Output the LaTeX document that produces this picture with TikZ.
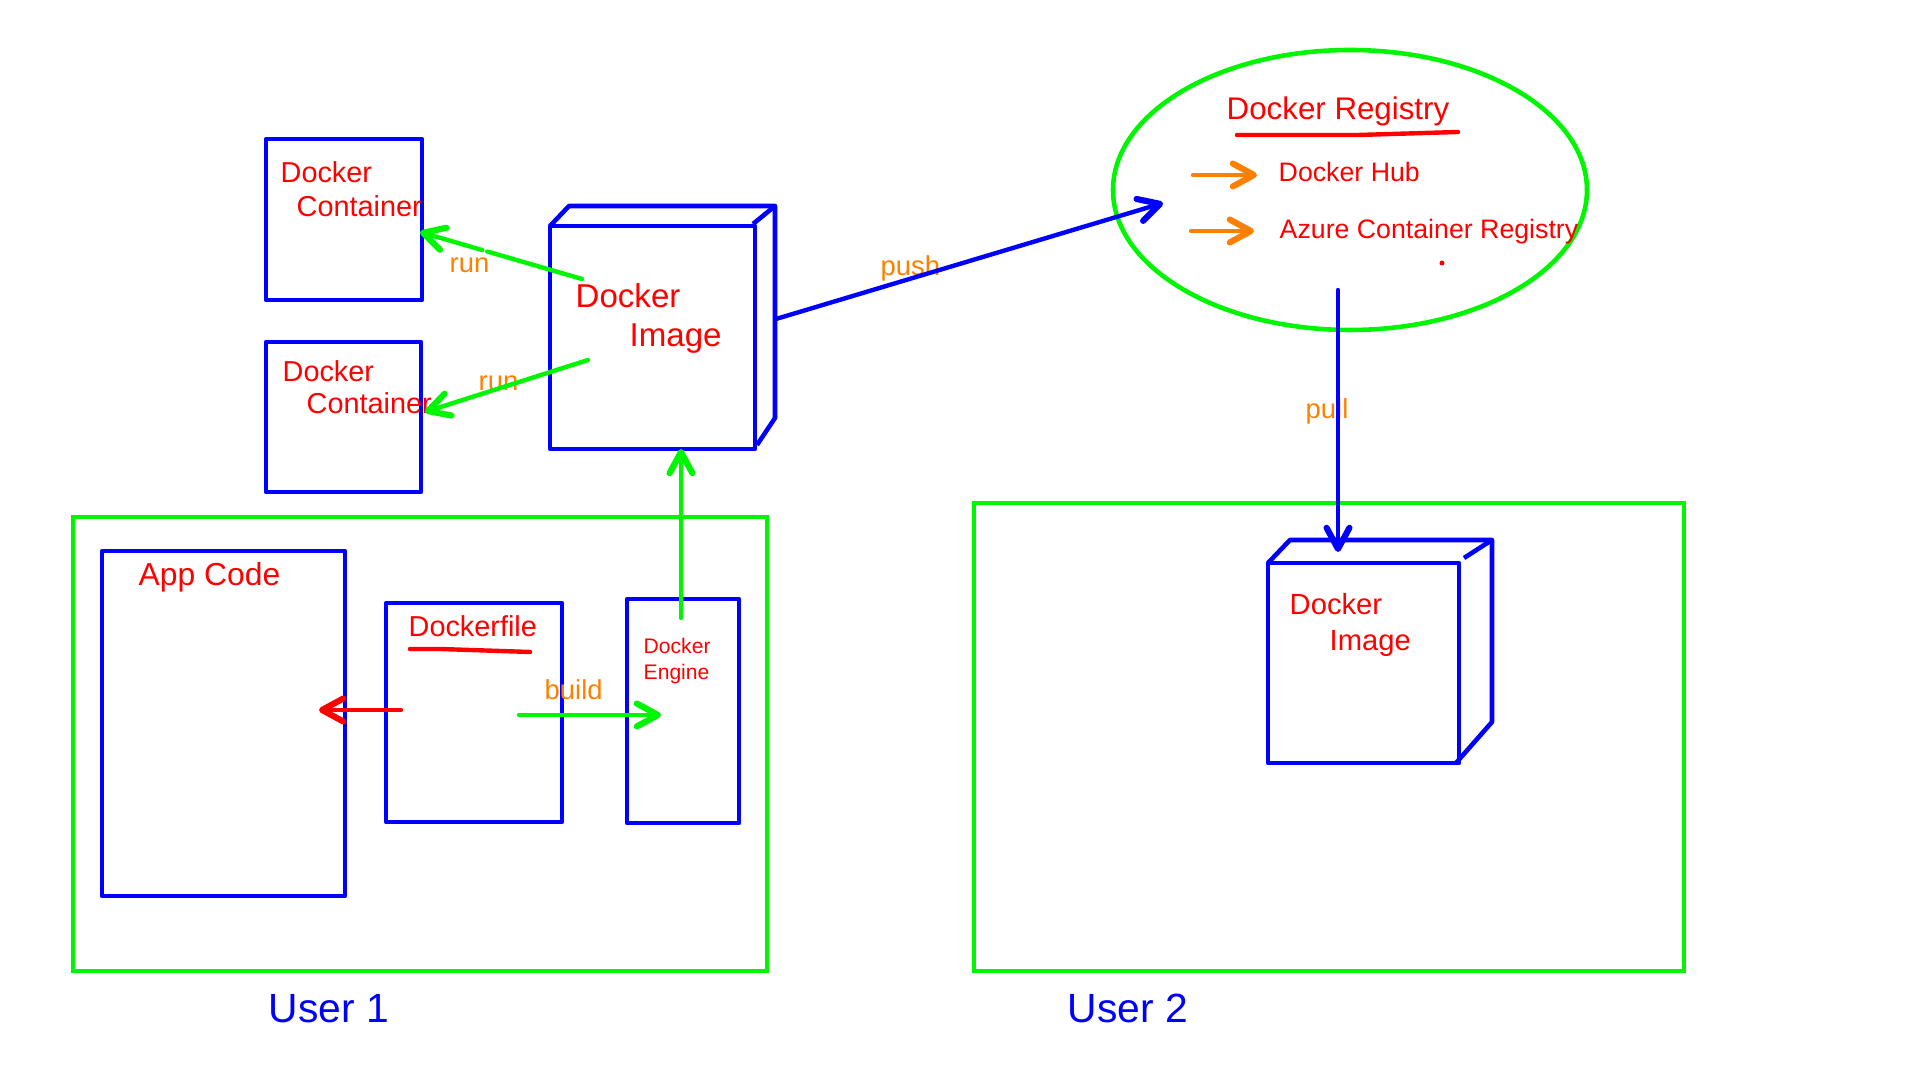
\documentclass[tikz,border=0pt]{standalone}
\usepackage{fontspec}
\setmainfont{Liberation Sans}
\usetikzlibrary{arrows.meta,calc}
\definecolor{pblue}{RGB}{0,0,255}
\definecolor{pred}{RGB}{255,0,0}
\definecolor{pgreen}{RGB}{0,245,0}
\definecolor{porange}{RGB}{255,128,0}
\def\fsz#1{\fontsize{#1}{#1}\selectfont}

\begin{document}
\begin{tikzpicture}[x=0.01cm, y=-0.01cm,
		box/.style={draw=pblue, line width=1.3pt, line join=round},
		frame/.style={draw=pgreen, line width=1.3pt},
		txt/.style={text=pred, anchor=base west, inner sep=0pt},
		verb/.style={text=porange, anchor=base west, inner sep=0pt, font=\fsz{7.8pt}},
		arr/.style={line width=1.25pt, line cap=round, -{Straight Barb[length=6pt, width=6.5pt, line width=1.75pt, round]}},
		uline/.style={draw=pred, line width=1.25pt, line cap=round}]
			%%%%% START %%%%%
			\useasboundingbox (0, 0) rectangle (1920, 1080);
			
			% containers
			\draw[box] (266, 139) rectangle (422, 300);
			\node[txt, font=\fsz{8.2pt}] (ctrAa) at (280, 183) {Docker};
			\node[txt, font=\fsz{8.2pt}] (ctrAb) at (296, 217) {Container};
			
			\draw[box] (266, 342) rectangle (421, 492);
			\node[txt, font=\fsz{8.2pt}] (ctrBa) at (282, 382) {Docker};
			\node[txt, font=\fsz{8.2pt}] (ctrBb) at (306, 414) {Container};
			
			% image cube, user 1
			\draw[box] (550, 226) rectangle (755, 449);
			\draw[box] (550, 226) -- (569, 206) -- (775, 206) -- (775, 418) -- (757, 445);
			\draw[box] (753, 224) -- (775, 206);
			\node[txt, font=\fsz{9.4pt}] (imgAa) at (575, 308) {Docker};
			\node[txt, font=\fsz{9.4pt}] (imgAb) at (629, 347) {Image};
			
			\coordinate (runAs) at (582, 279);
			\coordinate (runAe) at (420, 232);
			\coordinate (runBs) at (588, 360);
			\coordinate (runBe) at (425, 412);
			\node[verb] (runA) at (449, 273) {run};
			\node[verb] (runB) at (478, 391) {run};
			\draw[line width=1.25pt, line cap=round, draw=pgreen] (runAs) -- ($(runAs)!0.585!(runAe)$);
			\draw[arr, draw=pgreen] ($(runAs)!0.615!(runAe)$) -- (runAe);
			\draw[arr, draw=pgreen] (runBs) -- (runBe);
			
			% registry
			\draw[frame] (1350, 190) ellipse (237 and 140);
			\node[txt, font=\fsz{8.9pt}] (reg) at (1226, 120) {Docker Registry};
			\draw[uline] (1237, 135) -- (1358, 135) -- (1458, 132);
			\coordinate (hubs) at (1193, 175);
			\coordinate (hube) at (1257, 175);
			\coordinate (acrs) at (1191, 231);
			\coordinate (acre) at (1254, 231);
			\draw[arr, draw=porange] (hubs) -- (hube);
			\draw[arr, draw=porange] (acrs) -- (acre);
			\node[txt, font=\fsz{7.6pt}] (hub) at (1278, 182) {Docker Hub};
			\node[txt, font=\fsz{7.6pt}] (acr) at (1279, 239) {Azure Container Registry};
			\fill[pred] (1442, 263) circle (2.5);
			
			% push
			\coordinate (pushs) at (776, 319);
			\coordinate (pushe) at (1163, 203);
			\node[verb] (push) at (880, 276) {push};
			\draw[arr, draw=pblue] (pushs) -- (pushe);
			
			% user 1
			\draw[frame] (73, 517) rectangle (767, 971);
			\draw[box] (102, 551) rectangle (345, 896);
			\node[txt, font=\fsz{9.05pt}] (app) at (138, 586) {App Code};
			\draw[box] (386, 603) rectangle (562, 822);
			\node[txt, font=\fsz{8.2pt}] (dfile) at (408, 637) {Dockerfile};
			\draw[uline] (410, 649) -- (440, 649) -- (530, 652);
			\draw[box] (627, 599) rectangle (739, 823);
			\node[txt, font=\fsz{6pt}] (engA) at (643, 654) {Docker};
			\node[txt, font=\fsz{6pt}] (engB) at (643, 680) {Engine};
			
			\coordinate (upS) at (681, 618);
			\coordinate (upE) at (681, 449);
			\draw[arr, draw=pgreen] (upS) -- (upE);
			\coordinate (refS) at (401, 710);
			\coordinate (refE) at (319, 710);
			\draw[arr, draw=pred] (refS) -- (refE);
			\node[verb] (build) at (544, 700) {build};
			\coordinate (bldS) at (519, 715);
			\coordinate (bldE) at (661, 715);
			\draw[arr, draw=pgreen] (bldS) -- (bldE);
			
			\node[text=pblue, anchor=base west, inner sep=0pt, font=\fsz{11.6pt}] (userA) at (268, 1023) {User 1};
			
			% user 2
			\draw[frame] (974, 503) rectangle (1684, 971);
			\draw[box] (1268, 563) rectangle (1459, 763);
			\draw[box] (1268, 563) -- (1290, 540) -- (1492, 540) -- (1492, 722) -- (1456, 763);
			\draw[box] (1464, 558) -- (1492, 540);
			\node[txt, font=\fsz{8.3pt}] (imgBa) at (1289, 615) {Docker};
			\node[txt, font=\fsz{8.3pt}] (imgBb) at (1329, 651) {Image};
			
			\node[verb] (pull) at (1305, 419) {pull};
			\coordinate (pulls) at (1338, 290);
			\coordinate (pulle) at (1338, 552);
			\draw[arr, draw=pblue] (pulls) -- (pulle);
			
			\node[text=pblue, anchor=base west, inner sep=0pt, font=\fsz{11.6pt}] (userB) at (1067, 1023) {User 2};
			%%%%% END %%%%%
		\end{tikzpicture}
\end{document}
